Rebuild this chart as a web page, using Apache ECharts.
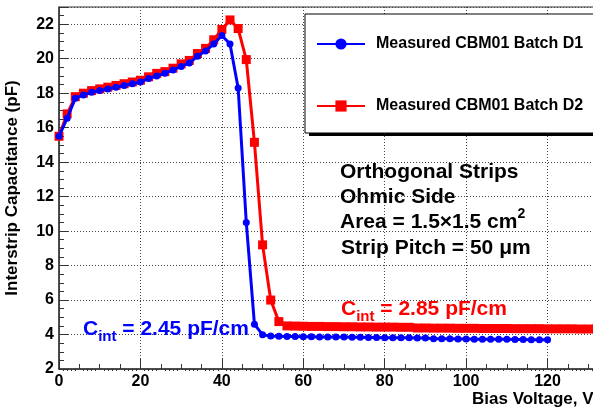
<!DOCTYPE html>
<html>
<head>
<meta charset="utf-8">
<script src="https://cdn.jsdelivr.net/npm/echarts@6/dist/echarts.min.js"></script>
<style>html,body{margin:0;padding:0;background:#fff;overflow:hidden;width:593px;height:412px}#c{width:630px;height:412px}</style>
</head>
<body>
<div id="c"></div>
<script>
var voltsD1 = [0,2,4,6,8,10,12,14,16,18,20,22,24,26,28,30,32,34,36,38,40,42,44,46,48,50,52,54,56,
  58,60,62,64,66,68,70,72,74,76,78,80,82,84,86,88,90,92,94,96,98,100,102,104,106,108,110,112,114,116,118,120];
var capD1 = [15.5,16.55,17.7,17.9,18.05,18.15,18.25,18.35,18.45,18.55,18.65,18.85,19.0,19.15,19.35,19.55,19.75,20.15,20.45,20.85,21.35,20.85,18.3,10.5,4.6,3.98,3.92,3.9,3.88,
  3.88,3.87,3.87,3.86,3.86,3.85,3.85,3.84,3.84,3.83,3.83,3.82,3.82,3.81,3.81,3.80,3.80,3.76,3.75,3.75,3.74,3.74,3.73,3.73,3.72,3.72,3.72,3.71,3.71,3.70,3.70,3.70];
var voltsD2 = [0,2,4,6,8,10,12,14,16,18,20,22,24,26,28,30,32,34,36,38,40,42,44,46,48,50,52,54,56,
  58,60,62,64,66,68,70,72,74,76,78,80,82,84,86,88,90,92,94,96,98,100,102,104,106,108,110,112,114,116,118,120,122,124,126,128,130,132];
var capD2 = [15.5,16.8,17.8,18.0,18.15,18.25,18.35,18.45,18.55,18.65,18.75,18.95,19.15,19.25,19.45,19.7,19.9,20.3,20.6,21.1,21.7,22.25,21.75,19.95,15.15,9.2,6.0,4.75,4.5,
  4.49,4.48,4.47,4.47,4.46,4.46,4.45,4.45,4.44,4.44,4.43,4.43,4.43,4.42,4.42,4.38,4.38,4.37,4.37,4.37,4.36,4.36,4.36,4.35,4.35,4.35,4.35,4.34,4.34,4.34,4.34,4.33,4.33,4.33,4.33,4.32,4.32,4.32];
var seriesNames = ['Measured CBM01 Batch D1', 'Measured CBM01 Batch D2'];
var xTitle = 'Bias Voltage, V';
var yTitle = 'Interstrip Capacitance (pF)';
var infoLines = ['Orthogonal Strips', 'Ohmic Side'];
var areaText = ['Area = 1.5\u00d71.5 cm', '2'];
var pitchText = 'Strip Pitch = 50 \u03bcm';
var cintD1 = ['C', 'int', ' = 2.45 pF/cm'];
var cintD2 = ['C', 'int', ' = 2.85 pF/cm'];

function pairs(xs, ys){ return xs.map(function(x,i){ return [x, ys[i]]; }); }
var FF = 'Liberation Sans';
var chart = echarts.init(document.getElementById('c'), null, {renderer:'canvas'});
function cintRich(parts, color, x, y){
  return {type:'text', x:x, y:y, z:50, style:{
    text:'{c|'+parts[0]+'}{s|'+parts[1]+'}{c|'+parts[2]+'}',
    fontFamily:FF, fontWeight:'bold', fill:color, textVerticalAlign:'middle',
    rich:{ c:{fontSize:21, fontFamily:FF, fontWeight:'bold', fill:color, lineHeight:30, verticalAlign:'middle'},
           s:{fontSize:15, fontFamily:FF, fontWeight:'bold', fill:color, lineHeight:30, verticalAlign:'bottom'} }
  }};
}
var axisCol = '#333';
var option = {
  animation:false,
  backgroundColor:'#fff',
  grid:{left:59, top:7, right:1, bottom:43, containLabel:false, outerBoundsMode:'none',
    show:true, borderColor:axisCol, borderWidth:1, backgroundColor:'transparent'},
  xAxis:[{type:'value', min:0, max:140, interval:20,
    axisLine:{show:true, onZero:false, lineStyle:{color:axisCol, width:1.5}},
    axisTick:{show:true, inside:true, length:10, lineStyle:{color:axisCol}},
    minorTick:{show:true, splitNumber:4, length:5, lineStyle:{color:axisCol}},
    splitLine:{show:true, lineStyle:{color:'#444', type:[1,2], width:1}},
    axisLabel:{color:'#000', fontFamily:FF, fontWeight:'bold', fontSize:16, margin:5}
  },{type:'value', min:0, max:140, interval:5, position:'bottom',
    axisLine:{show:false}, axisTick:{show:false}, axisLabel:{show:false}, splitLine:{show:false},
    minorTick:{show:true, splitNumber:5, length:2, lineStyle:{color:axisCol}}
  }],
  yAxis:{type:'value', min:2, max:23, interval:2,
    name:yTitle, nameLocation:'middle', nameGap:38,
    nameTextStyle:{color:'#000', fontFamily:FF, fontWeight:'bold', fontSize:17},
    axisLine:{show:true, onZero:false, lineStyle:{color:axisCol, width:1.5}},
    axisTick:{show:true, inside:true, length:9, lineStyle:{color:axisCol}},
    minorTick:{show:true, splitNumber:4, length:5, lineStyle:{color:axisCol}},
    splitLine:{show:true, lineStyle:{color:'#444', type:[1,2], width:1}},
    axisLabel:{color:'#000', fontFamily:FF, fontWeight:'bold', fontSize:16, margin:5, showMaxLabel:false}
  },
  legend:{orient:'vertical', left:305, top:14, padding:[22,12,19,11], itemGap:46,
    itemWidth:48, itemHeight:14, backgroundColor:'#fff', borderColor:'#000', borderWidth:1, borderRadius:0,
    textStyle:{color:'#000', fontFamily:FF, fontWeight:'bold', fontSize:16, padding:[0,0,0,6]},
    data:seriesNames, z:20
  },
  graphic:[
    {type:'rect', left:309, top:18, z:-1, shape:{width:286, height:118}, style:{fill:'#000'}},
    {type:'text', x:340, y:172, z:50, style:{text:infoLines[0], fontFamily:FF, fontWeight:'bold', fontSize:21, fill:'#000', textVerticalAlign:'middle'}},
    {type:'text', x:340, y:197, z:50, style:{text:infoLines[1], fontFamily:FF, fontWeight:'bold', fontSize:21, fill:'#000', textVerticalAlign:'middle'}},
    {type:'text', x:340, y:222, z:50, style:{text:'{n|'+areaText[0]+'}{u|'+areaText[1]+'}', fontFamily:FF, fontWeight:'bold', fill:'#000', textVerticalAlign:'middle',
      rich:{n:{fontSize:21, fontFamily:FF, fontWeight:'bold', fill:'#000', lineHeight:30, verticalAlign:'middle'},
            u:{fontSize:14, fontFamily:FF, fontWeight:'bold', fill:'#000', lineHeight:30, verticalAlign:'top'}}}},
    {type:'text', x:341, y:248, z:50, style:{text:pitchText, fontFamily:FF, fontWeight:'bold', fontSize:21, fill:'#000', textVerticalAlign:'middle'}},
    cintRich(cintD1, '#0000ff', 83, 329),
    cintRich(cintD2, '#ff0000', 341, 309),
    {type:'text', x:472, y:399, z:50, style:{text:xTitle, fontFamily:FF, fontWeight:'bold', fontSize:17, fill:'#000', textVerticalAlign:'middle'}}
  ],
  series:[
    {name:seriesNames[0], type:'line', xAxisIndex:0, data:pairs(voltsD1, capD1), symbol:'circle', symbolSize:7,
      lineStyle:{color:'#0000ff', width:3}, itemStyle:{color:'#0000ff'}, z:5},
    {name:seriesNames[1], type:'line', xAxisIndex:0, data:pairs(voltsD2, capD2), symbol:'rect', symbolSize:9,
      lineStyle:{color:'#ff0000', width:3}, itemStyle:{color:'#ff0000'}, z:4}
  ]
};
chart.setOption(option);
</script>
</body>
</html>
